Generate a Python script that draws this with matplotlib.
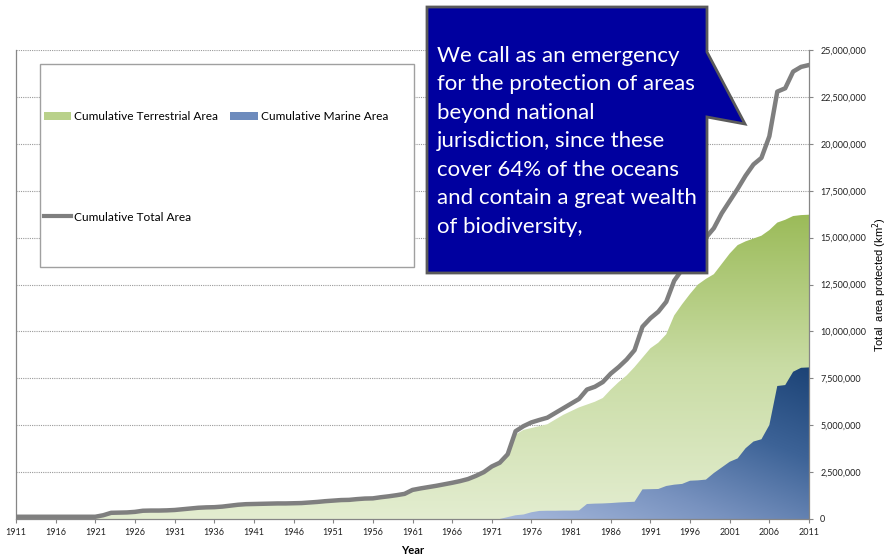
import matplotlib.pyplot as plt
import numpy as np
from matplotlib.colors import LinearSegmentedColormap
from matplotlib.patches import Polygon, Rectangle, Patch
from matplotlib.lines import Line2D

plt.rcParams['font.family'] = ['Lato', 'DejaVu Sans']

# years on the x axis
years = np.arange(1911, 2012)
year_ticks = np.arange(1911, 2012, 5)

# cumulative areas, million km2
total_area = [
    0.12, 0.12, 0.12, 0.12, 0.12, 0.12, 0.12, 0.12, 0.12, 0.12,   # 1911-1920
    0.12, 0.20, 0.33, 0.34, 0.35, 0.38, 0.44, 0.45, 0.45, 0.46,   # 1921-1930
    0.48, 0.52, 0.56, 0.60, 0.62, 0.63, 0.66, 0.71, 0.76, 0.79,   # 1931-1940
    0.80, 0.81, 0.82, 0.83, 0.83, 0.84, 0.85, 0.88, 0.91, 0.95,   # 1941-1950
    0.98, 1.01, 1.02, 1.06, 1.09, 1.10, 1.16, 1.21, 1.27, 1.34,   # 1951-1960
    1.55, 1.63, 1.70, 1.77, 1.85, 1.93, 2.02, 2.13, 2.30, 2.50,   # 1961-1970
    2.80, 3.00, 3.45, 4.68, 4.95, 5.15, 5.28, 5.40, 5.65, 5.90,   # 1971-1980
    6.15, 6.40, 6.90, 7.05, 7.30, 7.75, 8.10, 8.50, 9.00, 10.25,  # 1981-1990
    10.70, 11.05, 11.58, 12.70, 13.30, 14.00, 14.60, 15.00, 15.50, 16.30,  # 1991-2000
    16.95, 17.60, 18.30, 18.90, 19.25, 20.40, 22.78, 22.96, 23.85, 24.10,  # 2001-2010
    24.20,                                                         # 2011
]

terrestrial_area = [
    0.12, 0.12, 0.12, 0.12, 0.12, 0.12, 0.12, 0.12, 0.12, 0.12,
    0.12, 0.20, 0.33, 0.34, 0.35, 0.38, 0.44, 0.45, 0.45, 0.46,
    0.48, 0.52, 0.56, 0.60, 0.62, 0.63, 0.66, 0.71, 0.76, 0.79,
    0.80, 0.81, 0.82, 0.83, 0.83, 0.84, 0.85, 0.88, 0.91, 0.95,
    0.98, 1.01, 1.02, 1.06, 1.09, 1.10, 1.16, 1.21, 1.27, 1.34,
    1.55, 1.63, 1.70, 1.77, 1.85, 1.93, 2.02, 2.13, 2.30, 2.50,
    2.80, 3.00, 3.35, 4.50, 4.75, 4.85, 4.95, 5.05, 5.30, 5.55,
    5.75, 5.95, 6.10, 6.25, 6.45, 6.90, 7.30, 7.65, 8.10, 8.60,
    9.10, 9.40, 9.85, 10.85, 11.45, 12.00, 12.50, 12.80, 13.05, 13.60,
    14.15, 14.60, 14.80, 14.95, 15.10, 15.40, 15.80, 15.95, 16.15, 16.20,
    16.22,
]

marine_years = np.arange(1972, 2012)
marine_area = [
    0.00, 0.10, 0.20, 0.24, 0.36, 0.43, 0.44, 0.44, 0.45,          # 1972-1980
    0.45, 0.46, 0.80, 0.82, 0.83, 0.85, 0.88, 0.90, 0.92, 1.58,    # 1981-1990
    1.59, 1.60, 1.76, 1.83, 1.87, 2.04, 2.06, 2.10, 2.45, 2.75,    # 1991-2000
    3.05, 3.23, 3.77, 4.13, 4.25, 5.01, 7.09, 7.14, 7.85, 8.06,    # 2001-2010
    8.08,                                                          # 2011
]

callout_text = ("We call as an emergency\nfor the protection of areas\nbeyond national\n"
                "jurisdiction, since these\ncover 64% of the oceans\nand contain a great wealth\n"
                "of biodiversity,")

W, H = 889, 557
fig = plt.figure(figsize=(W / 100, H / 100), dpi=100)
ax = fig.add_axes([16 / W, 1 - 519 / H, (809 - 16) / W, (519 - 50) / H])


def gradient_fill(ax, x, y, colors, diagonal=False, zorder=1):
    x = np.asarray(x, dtype=float)
    y = np.asarray(y, dtype=float)
    poly = ax.fill_between(x, 0, y, facecolor='none', edgecolor='none', zorder=zorder)
    cmap = LinearSegmentedColormap.from_list('grad', colors)
    n = 256
    gy = np.linspace(0, 1, n)[:, None] * np.ones((1, n))
    gx = np.ones((n, 1)) * np.linspace(0, 1, n)[None, :]
    grad = 0.45 * gx + 0.55 * gy if diagonal else gy
    im = ax.imshow(grad, cmap=cmap, origin='lower', aspect='auto', interpolation='bilinear',
                   extent=[x.min(), x.max(), 0, y.max()], zorder=zorder)
    im.set_clip_path(poly.get_paths()[0], transform=ax.transData)


terr = np.array(terrestrial_area) * 1e6
mar = np.array(marine_area) * 1e6
tot = np.array(total_area) * 1e6

gradient_fill(ax, years, terr, ['#e3edd0', '#c9dca4', '#9bbb59'], zorder=1)
gradient_fill(ax, marine_years, mar, ['#a8badd', '#7892bf', '#3d6397', '#1c4376'],
              diagonal=True, zorder=2)
ax.plot(years, tot, color='#7f7f7f', lw=3.2, solid_joinstyle='round', zorder=3)

ax.set_xlim(1911, 2011)
ax.set_ylim(0, 25e6)
ax.set_xticks(year_ticks)
ax.set_xticklabels([str(y) for y in year_ticks])
yt = np.arange(0, 25e6 + 1, 2.5e6)
ax.set_yticks(yt)
ax.set_yticklabels([f'{int(v):,}' for v in yt])
ax.yaxis.tick_right()
ax.yaxis.set_label_position('right')
ax.tick_params(axis='both', labelsize=6.5, colors='#868686', labelcolor='#222222',
               length=3, width=0.8, direction='out')
ax.tick_params(axis='y', pad=5)
ax.grid(axis='y', color='#9a9a9a', linestyle=(0, (1, 1)), linewidth=0.8, zorder=0)
ax.set_axisbelow(True)
for side in ['left', 'bottom', 'right']:
    ax.spines[side].set_color('#868686')
    ax.spines[side].set_linewidth(0.9)
ax.spines['top'].set_visible(False)

ax.set_xlabel('Year', fontsize=8, fontweight='bold', labelpad=6)
ax.set_ylabel('Total  area protected (km$^2$)', fontsize=8, labelpad=3,
              family=['Liberation Sans', 'DejaVu Sans'])

# legend box
fig.patches.append(Rectangle((40 / W, 1 - 267 / H), (414 - 40) / W, (267 - 64) / H,
                             transform=fig.transFigure, facecolor='white',
                             edgecolor='#a0a0a0', lw=1.0, zorder=5))
handles = [Patch(facecolor='#b9d18a', edgecolor='none'),
           Line2D([0], [0], color='#7f7f7f', lw=3),
           Patch(facecolor='#6d8bbd', edgecolor='none')]
labels = ['Cumulative Terrestrial Area', 'Cumulative Total Area', 'Cumulative Marine Area']
leg = fig.legend(handles, labels, ncol=2, loc='upper left', frameon=False,
                 bbox_to_anchor=(44 / W, 1 - 111 / H), borderaxespad=0, borderpad=0,
                 fontsize=8.6, handlelength=2.3, handletextpad=0.25, columnspacing=1.0,
                 labelspacing=7.5)
leg.set_zorder(6)

# callout
callout = [(427, 7), (707, 7), (707, 52), (745, 124), (707, 117), (707, 273), (427, 273)]
fig.patches.append(Polygon([(x / W, 1 - y / H) for x, y in callout], closed=True,
                           transform=fig.transFigure, facecolor='#00009f',
                           edgecolor='#5a5a5a', lw=2, zorder=10))
fig.text(437 / W, 1 - 46 / H, callout_text, ha='left', va='top', color='white',
         fontsize=16, linespacing=1.53, zorder=11)

fig.savefig('out.png', dpi=100)
